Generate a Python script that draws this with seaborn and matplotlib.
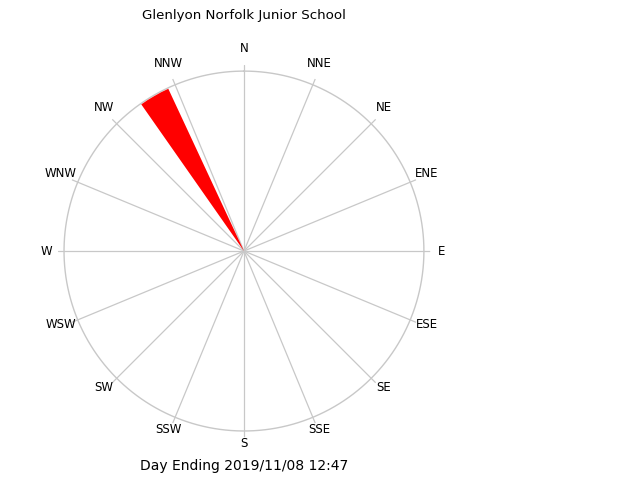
import numpy as np
import seaborn as sns
import matplotlib
matplotlib.use("Agg")
from matplotlib import pyplot as plt

# wind rose data
directions = ["N", "NNE", "NE", "ENE", "E", "ESE", "SE", "SSE",
              "S", "SSW", "SW", "WSW", "W", "WNW", "NW", "NNW"]
wind_deg = [330]
wind_freq = [0.995]
bar_width_deg = 10

title = "Glenlyon Norfolk Junior School"
footer = "Day Ending 2019/11/08 12:47"

sns.set_style("white")
plt.rcParams['font.family'] = ['DejaVu Sans']
plt.rcParams['text.color'] = 'black'

fig = plt.figure(figsize=(6.4, 4.8), dpi=100)
ax = fig.add_axes([0.0902, 0.089, 0.582, 0.776], projection="polar")
ax.set_theta_zero_location("N")
ax.set_theta_direction(-1)

dir_deg = np.arange(len(directions)) * 22.5
grid_col = "#c8c8c8"

# spokes, reaching a little past the outer ring
for d in dir_deg:
    ax.plot([np.radians(d), np.radians(d)], [0, 1.035], color=grid_col, lw=0.9, zorder=1)
theta = np.linspace(0, 2 * np.pi, 400)
ax.plot(theta, np.ones_like(theta), color=grid_col, lw=1.0, zorder=1)

ax.bar(np.radians(wind_deg), wind_freq, width=np.radians(bar_width_deg),
       color="red", edgecolor="none", zorder=3)

# compass labels: north/south ones sit a bit high, like the original
for lab, d in zip(directions, dir_deg):
    lift = 3.6 * abs(np.cos(np.radians(d)))
    ax.annotate(lab, (np.radians(d), 1.1), xytext=(0, lift), textcoords="offset points",
                ha="center", va="center", fontsize=8.5, color="black",
                annotation_clip=False)

ax.set_ylim(0, 1.035)
ax.set_xticks([])
ax.set_yticks([])
ax.grid(False)
ax.spines["polar"].set_visible(False)
ax.set_facecolor("none")

fig.text(244 / 640, 1 - 15 / 480, title, ha="center", va="center", fontsize=9.6, color="black")
fig.text(244 / 640, 1 - 466 / 480, footer, ha="center", va="center", fontsize=10, color="black")

fig.savefig("out.png", dpi=100)
